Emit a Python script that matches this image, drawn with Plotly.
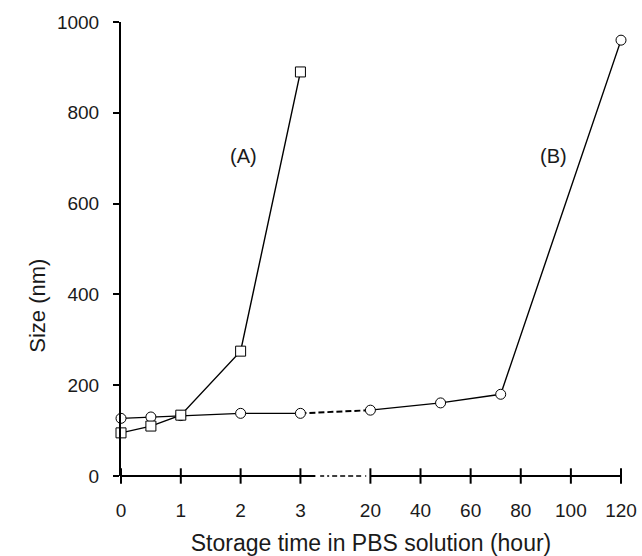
import plotly.graph_objects as go

# Storage time (hours) and particle size (nm) for the two formulations
hours_a = [0, 0.5, 1, 2, 3]
size_a = [95, 110, 134, 275, 890]

hours_b = [0, 0.5, 1, 2, 3, 20, 48, 72, 120]
size_b = [127, 130, 133, 138, 138, 145, 161, 180, 960]

tick_hours = [0, 1, 2, 3, 20, 40, 60, 80, 100, 120]
tick_text = ["0", "1", "2", "3", "20", "40", "60", "80", "100", "120"]
y_ticks = [0, 200, 400, 600, 800, 1000]

# Broken time axis: 0-3 h on a wide scale, 20-120 h compressed after a gap
BREAK_LO, BREAK_HI = 3, 20
GAP = 1.17
RIGHT_SCALE = 0.0419


def pos(h):
    if h <= BREAK_LO:
        return h
    return BREAK_LO + GAP + (h - BREAK_HI) * RIGHT_SCALE


def split(hours, sizes, lo, hi):
    pts = [(pos(h), s) for h, s in zip(hours, sizes) if lo <= h <= hi]
    return [p[0] for p in pts], [p[1] for p in pts]


FONT = "Arial, Liberation Sans, sans-serif"
INK = "#1a1a1a"
W, H = 642, 556
M = dict(l=121, r=21, t=22, b=80)
x_end = pos(120)


def px(p):
    """Axis position -> paper fraction along x."""
    return p / x_end


fig = go.Figure()

# Horizontal axis line with the break marker (paper coords, unclipped)
axis_line = dict(color="black", width=2)
fig.add_shape(type="line", xref="paper", yref="paper", layer="below",
              x0=0, x1=px(pos(BREAK_LO) + 0.25), y0=0, y1=0, line=axis_line)
fig.add_shape(type="line", xref="paper", yref="paper", layer="below",
              x0=px(pos(BREAK_LO) + 0.33), x1=px(pos(BREAK_HI) - 0.07),
              y0=0, y1=0,
              line=dict(color="black", width=1.5,
                        dash="4px,3px,2px,3px,5px,3px,5px,3px,5px,3px,5px"))
fig.add_shape(type="line", xref="paper", yref="paper", layer="below",
              x0=px(pos(BREAK_HI)), x1=1, y0=0, y1=0, line=axis_line)

# Tick marks crossing the time axis
fig.add_trace(go.Scatter(
    x=[pos(h) for h in tick_hours], y=[0] * len(tick_hours), mode="markers",
    marker=dict(symbol="line-ns", size=11, color="black",
                line=dict(color="black", width=2)),
    showlegend=False, cliponaxis=False, hoverinfo="skip"))

# Series B: solid before and after the break, dashed across it
xb1, yb1 = split(hours_b, size_b, 0, BREAK_LO)
xb2, yb2 = split(hours_b, size_b, BREAK_HI, 200)
xbg, ybg = split(hours_b, size_b, BREAK_LO, BREAK_HI)
line_b = dict(color="black", width=1.4)
fig.add_trace(go.Scatter(x=xb1, y=yb1, mode="lines", line=line_b,
                         showlegend=False, cliponaxis=False))
fig.add_trace(go.Scatter(x=xbg, y=ybg, mode="lines",
                         line=dict(color="black", width=2, dash="6px,3px"),
                         showlegend=False, cliponaxis=False))
fig.add_trace(go.Scatter(x=xb2, y=yb2, mode="lines", line=line_b,
                         showlegend=False, cliponaxis=False))
fig.add_trace(go.Scatter(
    x=[pos(h) for h in hours_b], y=size_b, mode="markers",
    marker=dict(symbol="circle", size=10, color="white",
                line=dict(color="black", width=1)),
    showlegend=False, cliponaxis=False))

# Series A
fig.add_trace(go.Scatter(
    x=[pos(h) for h in hours_a], y=size_a, mode="lines+markers",
    line=dict(color="black", width=1.4),
    marker=dict(symbol="square", size=10, color="white",
                line=dict(color="black", width=1)),
    showlegend=False, cliponaxis=False))

fig.add_annotation(x=pos(2.05), y=705, text="(A)", showarrow=False,
                   font=dict(family=FONT, size=20, color=INK))
fig.add_annotation(x=pos(93), y=705, text="(B)", showarrow=False,
                   font=dict(family=FONT, size=20, color=INK))
fig.add_annotation(x=(38 - M["l"]) / (W - M["l"] - M["r"]), xref="paper",
                   xanchor="center", y=375, yref="y",
                   text="Size (nm)", textangle=-90, showarrow=False,
                   font=dict(family=FONT, size=22, color=INK))

tick_pos = [pos(h) for h in tick_hours]

fig.update_layout(
    width=W, height=H,
    margin=M,
    paper_bgcolor="white", plot_bgcolor="white",
    font=dict(family=FONT, size=19, color=INK),
    xaxis=dict(
        range=[0, x_end], tickvals=tick_pos, ticktext=tick_text,
        ticks="", showline=False, showgrid=False, zeroline=False,
        ticklabelstandoff=21, automargin=False,
        title=dict(text="Storage time in PBS solution (hour)",
                   font=dict(family=FONT, size=23, color=INK), standoff=14),
    ),
    yaxis=dict(
        range=[0, 1000], tickvals=y_ticks,
        ticks="outside", ticklen=6, tickwidth=2, tickcolor="black",
        showline=True, linewidth=2, linecolor="black",
        showgrid=False, zeroline=False, ticklabelstandoff=10,
        automargin=False,
    ),
)

fig.write_html("out.html")
